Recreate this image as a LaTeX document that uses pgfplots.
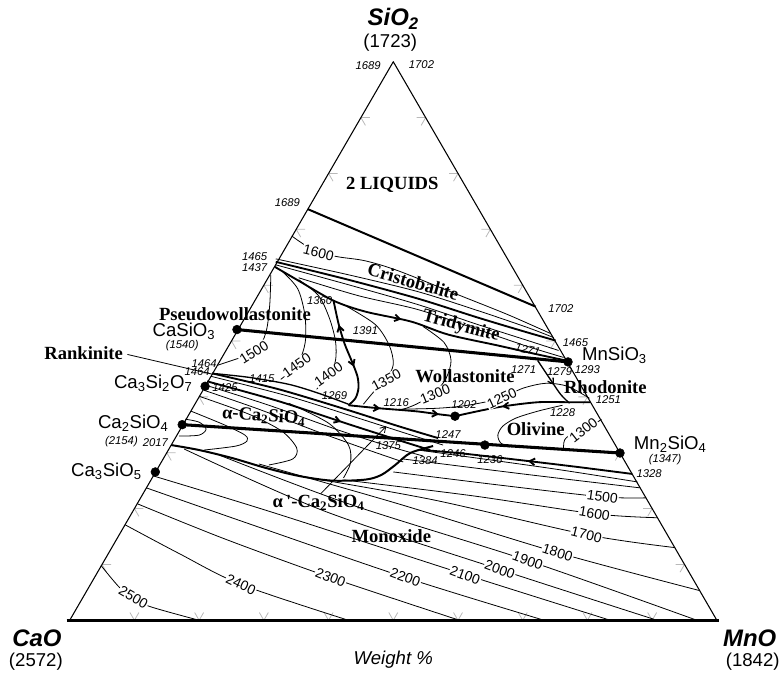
\documentclass[border=0pt]{standalone}
\usepackage{pgfplots}
\pgfplotsset{compat=1.18}
\usepackage{fontspec}
\setmainfont{Liberation Serif}
\newfontfamily\arial{Liberation Sans}
\newfontfamily\tnr{Liberation Serif}
\usetikzlibrary{decorations.markings,arrows.meta}
\newcommand{\cmp}{\arial\fontsize{14}{16}\selectfont}
\newcommand{\reg}{\tnr\bfseries\fontsize{14}{16}\selectfont}
\newcommand{\ctr}{\arial\fontsize{10.5}{12}\selectfont}
\newcommand{\sml}{\arial\itshape\fontsize{8.5}{10}\selectfont}
\newcommand{\ttl}{\arial\bfseries\itshape\fontsize{18}{20}\selectfont}
\newcommand{\prn}{\arial\fontsize{14}{16}\selectfont}
\tikzset{
 arr/.style={postaction={decorate},decoration={markings,mark=at position #1 with {\arrow{Straight Barb[length=4pt,width=5pt]}}}},
 rarr/.style={postaction={decorate},decoration={markings,mark=at position #1 with {\arrowreversed{Straight Barb[length=4pt,width=5pt]}}}},
 clab/.style={fill=white,inner sep=0.6pt,font=\ctr},
}
\begin{document}
\begin{tikzpicture}
\begin{axis}[width=588pt,height=510pt,scale only axis,xmin=0,xmax=784,ymin=0,ymax=680,
 y dir=reverse,hide axis,clip=false]
\path (rel axis cs:0,0) rectangle (rel axis cs:1,1);
% tick marks
\addplot[gray!55,line width=0.6pt,unbounded coords=jump] coordinates {
(371.5,118.1)(362.5,118.1)(367,125.9)(0,nan)
(339,174.2)(330,174.2)(334.5,182)(0,nan)
(306.5,230.3)(297.5,230.3)(302,238.1)(0,nan)
(274,286.4)(265,286.4)(269.5,294.2)(0,nan)
(241.5,342.5)(232.5,342.5)(237,350.3)(0,nan)
(209,398.6)(200,398.6)(204.5,406.4)(0,nan)
(176.5,454.7)(167.5,454.7)(172,462.5)(0,nan)
(144,510.8)(135,510.8)(139.5,518.6)(0,nan)
(111.5,566.9)(102.5,566.9)(107,574.7)(0,nan)
(418.5,118.1)(427.5,118.1)(423,125.9)(0,nan)
(451,174.2)(460,174.2)(455.5,182)(0,nan)
(483.5,230.3)(492.5,230.3)(488,238.1)(0,nan)
(516,286.4)(525,286.4)(520.5,294.2)(0,nan)
(548.5,342.5)(557.5,342.5)(553,350.3)(0,nan)
(581,398.6)(590,398.6)(585.5,406.4)(0,nan)
(613.5,454.7)(622.5,454.7)(618,462.5)(0,nan)
(646,510.8)(655,510.8)(650.5,518.6)(0,nan)
(678.5,566.9)(687.5,566.9)(683,574.7)(0,nan)
(130.5,615.2)(135,623)(139.5,615.2)(0,nan)
(195.5,615.2)(200,623)(204.5,615.2)(0,nan)
(260.5,615.2)(265,623)(269.5,615.2)(0,nan)
(325.5,615.2)(330,623)(334.5,615.2)(0,nan)
(390.5,615.2)(395,623)(399.5,615.2)(0,nan)
(455.5,615.2)(460,623)(464.5,615.2)(0,nan)
(520.5,615.2)(525,623)(529.5,615.2)(0,nan)
(585.5,615.2)(590,623)(594.5,615.2)(0,nan)
(650.5,615.2)(655,623)(659.5,615.2)
};
% triangle
\addplot[black,line width=0.8pt] coordinates {(70,623)(395,62)(720,623)};
\addplot[black,line width=2.4pt] coordinates {(67,623)(722,623)};

% ---- thin contours ----
\pgfplotsset{every axis plot/.append style={line join=round}}
% cristobalite 1600 and band lines
\addplot[black,line width=0.6pt,smooth] coordinates {(293,237)(303,244)(318,253)(340,258)(367,262)(400,272)(460,296)(510,316)(553,335)};
\addplot[black,line width=0.6pt,smooth] coordinates {(277,260)(350,276)(420,293)(480,312)(530,329)(556,339)};
\addplot[black,line width=0.6pt,smooth] coordinates {(277,266)(350,286)(420,306)(480,326)(530,342)(561,352)};
\addplot[black,line width=0.6pt,smooth] coordinates {(300,279)(360,297)(420,311)(480,331)(530,348)(566,359)};
% pseudowollastonite field
\addplot[black,line width=0.6pt,smooth] coordinates {(272,276)(271,305)(268,330)(262,346)(250,356)(233,362)(218,367)};
\addplot[black,line width=0.6pt,smooth] coordinates {(284,273)(299,290)(306,315)(307,340)(303,357)(295,370)(282,381)};
\addplot[black,line width=0.6pt,smooth] coordinates {(300,281)(320,297)(331,320)(337,343)(337,362)(331,376)(318,391)};
% wollastonite field
\addplot[black,line width=0.6pt,smooth] coordinates {(347,307)(377,326)(391,347)(395,366)(388,381)(375,394)(365,406)};
\addplot[black,line width=0.6pt,smooth] coordinates {(425,328)(446,344)(453,362)(448,380)(436,395)(418,406)(405,411)};
\addplot[black,line width=0.6pt,smooth] coordinates {(400,411)(440,410)(470,407)(503,400)(525,390)(548,385)(570,388)(592,400)};
% olivine field
\addplot[black,line width=0.6pt,smooth] coordinates {(566,452)(567,442)(575,435)(588,430)(600,424)(604,421)};
\addplot[black,line width=0.6pt,smooth] coordinates {(565,407)(540,413)(518,420)(505,428)(500,437)(503,445)(512,449)};
% alpha-C2S field
\addplot[black,line width=0.6pt,smooth] coordinates {(186,421)(200,424)(207,431)(200,437)(180,438)};
\addplot[black,line width=0.6pt,smooth] coordinates {(192,413)(226,427)(246,437)(248,443)(237,448)(205,452)};
\addplot[black,line width=0.6pt,smooth] coordinates {(200,398)(250,416)(283,433)(298,450)(294,461)(270,467)};
\addplot[black,line width=0.6pt,smooth] coordinates {(290,405)(330,425)(350,447)(352,465)(345,480)};
% fan lines
\addplot[black,line width=0.6pt,smooth] coordinates {(212,378)(290,398)(360,420)(410,436)(445,447)};
\addplot[black,line width=0.6pt,smooth] coordinates {(207,387)(270,407)(340,432)(390,448)(425,458)};
\addplot[black,line width=0.6pt,smooth] coordinates {(205,392)(260,411)(320,434)(370,452)(405,464)};
% monoxide isotherms
\addplot[black,line width=0.6pt,smooth] coordinates {(101.5,568)(120,590)(134,600)(150,609)(200,623)};
\addplot[black,line width=0.6pt,smooth] coordinates {(125.5,527)(180,556)(242,587)(350,623)};
\addplot[black,line width=0.6pt,smooth] coordinates {(138,506)(225,541)(332,580)(461.5,623)};
\addplot[black,line width=0.6pt,smooth] coordinates {(147,490)(250,526)(407,580)(546.5,623)};
\addplot[black,line width=0.6pt,smooth] coordinates {(154,478)(275,515)(467,577)(613,623)};
\addplot[black,line width=0.6pt,smooth] coordinates {(185,451)(325,513)(502,572)(660,623)};
\addplot[black,line width=0.6pt,smooth] coordinates {(220,457)(350,506)(530,563)(700,623)};
\addplot[black,line width=0.6pt,smooth] coordinates {(260,466)(400,506)(560,555)(702,593)};
\addplot[black,line width=0.6pt,smooth] coordinates {(300,478)(435,502)(589,537)(678,550)};
\addplot[black,line width=0.6pt,smooth] coordinates {(345,482)(475,498)(597,516)(660,520)};
\addplot[black,line width=0.6pt,smooth] coordinates {(395,474)(500,487)(605,499)(649,500)};
\addplot[black,line width=0.6pt,smooth] coordinates {(405,461)(525,476)(643,490)};
\addplot[black,line width=0.6pt,smooth] coordinates {(420,452)(550,470)(640,484)};
% leaders
\addplot[black,line width=0.6pt] coordinates {(128,356)(214,376)};
\addplot[black,line width=0.6pt,-{Straight Barb[length=4pt,width=5pt]}] coordinates {(322,496)(388,428)};

% ---- boundaries ----
\addplot[black,line width=1.5pt] coordinates {(309,210)(538,308)};
\addplot[black,line width=1.4pt,smooth] coordinates {(277,263)(350,281)(420,300)(480,319)(530,334)(558,342)};
\addplot[black,line width=1.4pt,smooth,arr=0.45] coordinates {(276,268)(300,282)(335,302)(367,313)(413,323)(450,336)(500,347)(540,356)(568,362)};
\addplot[black,line width=1.4pt,smooth,postaction={decorate},decoration={markings,
 mark=at position 0.22 with {\arrowreversed{Straight Barb[length=4pt,width=5pt]}},
 mark=at position 0.62 with {\arrow{Straight Barb[length=4pt,width=5pt]}}}]
 coordinates {(335,302)(340,325)(346,345)(353,362)(359,378)(360,390)(357,400)(350,407)};
\addplot[black,line width=1.0pt,smooth] coordinates {(213,375)(250,379)(290,386)(320,395)(350,406)};
\addplot[black,line width=1.4pt,smooth,postaction={decorate},decoration={markings,
 mark=at position 0.3 with {\arrow{Straight Barb[length=4pt,width=5pt]}},
 mark=at position 0.85 with {\arrow{Straight Barb[length=4pt,width=5pt]}}}]
 coordinates {(350,407)(380,410)(417,413)(440,416)(457,418)};
\addplot[black,line width=1.4pt,smooth,rarr=0.35] coordinates {(457,418)(500,409)(540,404)(572,404)(593,404)};
\addplot[black,line width=1.0pt,smooth,arr=0.55] coordinates {(540,362)(552,380)(563,396)(572,405)};
\addplot[black,line width=1.4pt,smooth] coordinates {(213,375)(280,391)(350,412)(400,428)(440,440)};
\addplot[black,line width=1.4pt,smooth,arr=0.6] coordinates {(208,383)(280,403)(350,426)(400,442)(432,452)};
\addplot[black,line width=1.5pt,smooth] coordinates {(172,447)(200,452)(233,460)(267,470)(300,478)(333,482.7)(367,481.7)(383,477)(397,467)(412,455)(435,448)};
\addplot[black,line width=1.4pt,smooth,rarr=0.5] coordinates {(425,452)(460,455)(487,458)(530,463)(580,469)(635,476)};
% joins
\addplot[black,line width=2.3pt] coordinates {(238,331)(570.5,363.5)};
\addplot[black,line width=2.3pt] coordinates {(183,426.5)(622.7,455)};
% dots
\addplot[only marks,mark=*,mark size=3.3pt,black] coordinates {(238,331)(570.5,363.5)(206,388)(183,426.5)(622.7,455)(156,474)(457,418)(487,447)};

% ---- labels ----
\node[font=\ttl] at (axis cs:395,19) {SiO\textsubscript{2}};
\node[font=\prn] at (axis cs:392,43) {(1723)};
\node[font=\ttl] at (axis cs:37,641) {CaO};
\node[font=\prn] at (axis cs:36,665) {(2572)};
\node[font=\ttl] at (axis cs:753,641) {MnO};
\node[font=\prn] at (axis cs:756,665) {(1842)};
\node[font=\arial\itshape\fontsize{14}{16}\selectfont] at (axis cs:395,663) {Weight \%};

\node[font=\sml,anchor=east] at (axis cs:387,66) {1689};
\node[font=\sml,anchor=west] at (axis cs:406,65) {1702};
\node[font=\sml,anchor=east] at (axis cs:306,204) {1689};
\node[font=\sml,anchor=east] at (axis cs:273,258) {1465};
\node[font=\sml,anchor=east] at (axis cs:273,269) {1437};
\node[font=\sml,anchor=west] at (axis cs:546,310) {1702};
\node[font=\sml] at (axis cs:578,344) {1465};
\node[font=\sml,rotate=-12] at (axis cs:530,351) {1271};
\node[font=\sml] at (axis cs:526,371) {1271};
\node[font=\sml] at (axis cs:562,373) {1279};
\node[font=\sml] at (axis cs:590,371) {1293};
\node[font=\sml] at (axis cs:321,302) {1360};
\node[font=\sml] at (axis cs:367,332) {1391};
\node[font=\sml] at (axis cs:183,347) {(1540)};
\node[font=\sml] at (axis cs:205,365) {1464};
\node[font=\sml] at (axis cs:198,373) {1464};
\node[font=\sml] at (axis cs:226,389) {1425};
\node[font=\sml] at (axis cs:263,380) {1415};
\node[font=\sml] at (axis cs:336,397) {1269};
\node[font=\sml] at (axis cs:398,404) {1216};
\node[font=\sml] at (axis cs:466,406) {1202};
\node[font=\sml] at (axis cs:611,401) {1251};
\node[font=\sml] at (axis cs:565,414) {1228};
\node[font=\sml] at (axis cs:450,436) {1247};
\node[font=\sml] at (axis cs:390,448) {1375};
\node[font=\sml] at (axis cs:455,456) {1246};
\node[font=\sml] at (axis cs:427,463) {1384};
\node[font=\sml] at (axis cs:492,462) {1236};
\node[font=\sml] at (axis cs:122,444) {(2154)};
\node[font=\sml] at (axis cs:156,445) {2017};
\node[font=\sml] at (axis cs:668,462) {(1347)};
\node[font=\sml] at (axis cs:652,476) {1328};

\node[font=\cmp,anchor=east] at (axis cs:221,333) {CaSiO\textsubscript{3}};
\node[font=\cmp,anchor=east] at (axis cs:198,385) {Ca\textsubscript{3}Si\textsubscript{2}O\textsubscript{7}};
\node[font=\cmp,anchor=east] at (axis cs:174,425) {Ca\textsubscript{2}SiO\textsubscript{4}};
\node[font=\cmp,anchor=east] at (axis cs:147,473) {Ca\textsubscript{3}SiO\textsubscript{5}};
\node[font=\cmp,anchor=west] at (axis cs:580,357) {MnSiO\textsubscript{3}};
\node[font=\cmp,anchor=west] at (axis cs:632,446) {Mn\textsubscript{2}SiO\textsubscript{4}};

\node[font=\reg] at (axis cs:394,186) {2 LIQUIDS};
\node[font=\reg,rotate=-16] at (axis cs:415,283) {Cristobalite};
\node[font=\reg,rotate=-15] at (axis cs:463,328) {Tridymite};
\node[font=\reg] at (axis cs:236,316) {Pseudowollastonite};
\node[font=\reg] at (axis cs:84,355) {Rankinite};
\node[font=\reg] at (axis cs:467,378) {Wollastonite};
\node[font=\reg] at (axis cs:608,389) {Rhodonite};
\node[font=\reg] at (axis cs:538,431) {Olivine};
\node[font=\reg,rotate=-4] at (axis cs:265,418) {α-Ca\textsubscript{2}SiO\textsubscript{4}};
\node[font=\reg] at (axis cs:320,505) {α\,'-Ca\textsubscript{2}SiO\textsubscript{4}};
\node[font=\reg] at (axis cs:393,538) {Monoxide};

\node[clab,rotate=-14] at (axis cs:320,254) {1600};
\node[clab,rotate=32] at (axis cs:255,354) {1500};
\node[clab,rotate=35] at (axis cs:298,367) {1450};
\node[clab,rotate=35] at (axis cs:330,376) {1400};
\node[clab,rotate=28] at (axis cs:388,382) {1350};
\node[clab,rotate=22] at (axis cs:437,396) {1300};
\node[clab,rotate=25] at (axis cs:504,400) {1250};
\node[clab,rotate=38] at (axis cs:586,432) {1300};
\node[clab,rotate=-8] at (axis cs:605,499) {1500};
\node[clab,rotate=-10] at (axis cs:597,516) {1600};
\node[clab,rotate=-14] at (axis cs:589,537) {1700};
\node[clab,rotate=-18] at (axis cs:560,555) {1800};
\node[clab,rotate=-20] at (axis cs:530,563) {1900};
\node[clab,rotate=-20] at (axis cs:502,572) {2000};
\node[clab,rotate=-20] at (axis cs:467,578) {2100};
\node[clab,rotate=-20] at (axis cs:407,580) {2200};
\node[clab,rotate=-22] at (axis cs:332,580) {2300};
\node[clab,rotate=-25] at (axis cs:242,587) {2400};
\node[clab,rotate=-30] at (axis cs:134,600) {2500};
\end{axis}
\end{tikzpicture}
\end{document}
